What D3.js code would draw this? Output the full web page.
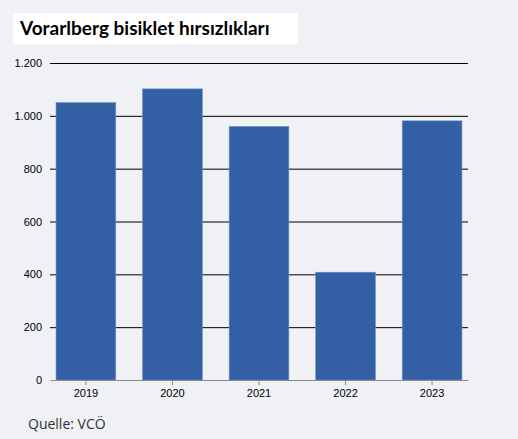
<!DOCTYPE html>
<html>
<head>
<meta charset="utf-8">
<script src="https://cdn.jsdelivr.net/npm/d3@7"></script>
<style>
  body { margin: 0; background: #eff1f5; }
  svg { display: block; }
</style>
</head>
<body>
<svg id="chart"></svg>
<script>
// Data
var years = ["2019", "2020", "2021", "2022", "2023"];
var thefts = [1050, 1102, 960, 408, 981];
var yTicks = [0, 200, 400, 600, 800, 1000, 1200];

var svgWidth = 518;
var svgHeight = 439;
var margin = { top: 63, right: 50, bottom: 59, left: 50 };
var chartWidth = svgWidth - margin.left - margin.right;
var chartHeight = svgHeight - margin.top - margin.bottom;

var svg = d3.select("#chart")
  .attr("width", svgWidth)
  .attr("height", svgHeight);

// Title box
svg.append("rect")
  .attr("x", 13).attr("y", 13)
  .attr("width", 285).attr("height", 31)
  .attr("fill", "#ffffff");

svg.append("text")
  .attr("x", 20).attr("y", 35)
  .attr("font-family", "Lato, sans-serif")
  .attr("font-weight", "bold")
  .attr("font-size", "19px")
  .attr("fill", "#000")
  .text("Vorarlberg bisiklet hırsızlıkları");

var chart = svg.append("g")
  .attr("transform", "translate(" + margin.left + "," + margin.top + ")");

var xScale = d3.scaleBand()
  .domain(years)
  .range([0, chartWidth])
  .paddingInner(0.31)
  .paddingOuter(0.07);

var yScale = d3.scaleLinear()
  .domain([0, 1200])
  .range([chartHeight, 0]);

var locale = d3.formatLocale({ decimal: ",", thousands: ".", grouping: [3], currency: ["", ""] });
var fmt = locale.format(",d");

// Gridlines
chart.selectAll(".grid")
  .data(yTicks.filter(function (d) { return d > 0; }))
  .enter()
  .append("line")
  .attr("class", "grid")
  .attr("x1", 0).attr("x2", chartWidth)
  .attr("y1", function (d) { return yScale(d) + 0.5; })
  .attr("y2", function (d) { return yScale(d) + 0.5; })
  .attr("stroke", "#000")
  .attr("stroke-width", 1);

// Bars
chart.selectAll(".bar")
  .data(years)
  .enter()
  .append("rect")
  .attr("class", "bar")
  .attr("x", function (d) { return xScale(d); })
  .attr("y", function (d, i) { return yScale(thefts[i]); })
  .attr("width", xScale.bandwidth())
  .attr("height", function (d, i) { return chartHeight - yScale(thefts[i]); })
  .attr("fill", "#335fa4")
  .attr("stroke", "#6f8fc4")
  .attr("stroke-width", 0.6);

// Y tick labels
var yAxis = chart.append("g")
  .attr("class", "axis")
  .call(d3.axisLeft(yScale).tickValues(yTicks).tickFormat(fmt).tickSize(0).tickPadding(8));
yAxis.select(".domain").remove();
yAxis.selectAll("text")
  .attr("font-family", "'Liberation Sans', sans-serif")
  .attr("font-size", "11px")
  .attr("fill", "#000");

// X axis
var xAxis = chart.append("g")
  .attr("class", "axis")
  .attr("transform", "translate(0," + chartHeight + ")")
  .call(d3.axisBottom(xScale).tickSize(5).tickSizeOuter(0).tickPadding(4));
xAxis.select(".domain").attr("stroke", "#8a8a8a");
xAxis.selectAll(".tick line").attr("stroke", "#8a8a8a");
xAxis.selectAll("text")
  .attr("font-family", "'Liberation Sans', sans-serif")
  .attr("font-size", "11px")
  .attr("fill", "#000");

// Source
svg.append("text")
  .attr("x", 28).attr("y", 429)
  .attr("font-family", "'Open Sans', sans-serif")
  .attr("font-size", "14px")
  .attr("fill", "#333")
  .text("Quelle: VCÖ");
</script>
</body>
</html>
